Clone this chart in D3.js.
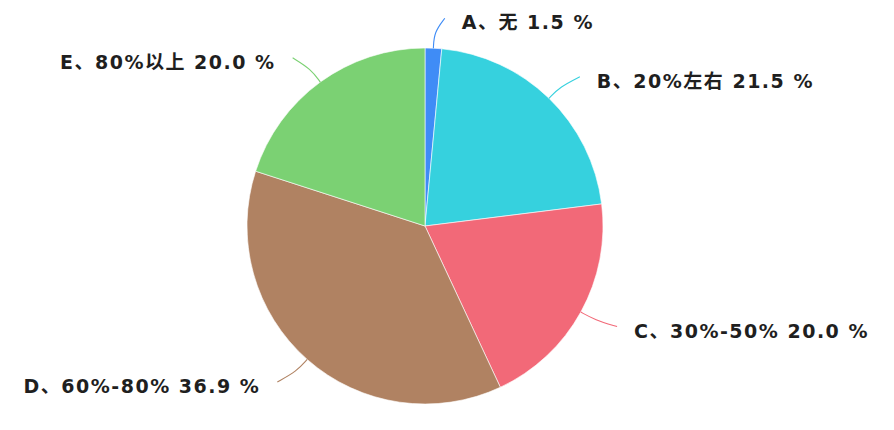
<!DOCTYPE html>
<html>
<head>
<meta charset="utf-8">
<script src="https://cdn.jsdelivr.net/npm/d3@7"></script>
<style>
  body { margin: 0; background: #fff; }
  text { font-family: "DejaVu Sans", "Noto Sans CJK SC", sans-serif; font-weight: bold; fill: #1f1f1f; }
</style>
</head>
<body>
<svg id="chart" width="894" height="430"></svg>
<script>
var categories = ["A、无", "B、20%左右", "C、30%-50%", "D、60%-80%", "E、80%以上"];
var values = [1.5, 21.5, 20.0, 36.9, 20.0];
var colors = ["#3f8cf6", "#36d1de", "#f26978", "#b08262", "#7bd173"];

var width = 894, height = 430;
var cx = 425, cy = 226, radius = 178;

var svg = d3.select("#chart");
var g = svg.append("g").attr("transform", "translate(" + cx + "," + cy + ")");

var data = categories.map(function(c, i) { return { name: c, value: values[i], color: colors[i] }; });

var pie = d3.pie().sort(null).value(function(d) { return d.value; });
var arcs = pie(data);

var arc = d3.arc().innerRadius(0).outerRadius(radius);

g.selectAll("path.slice")
  .data(arcs)
  .enter().append("path")
  .attr("class", "slice")
  .attr("d", arc)
  .attr("fill", function(d) { return d.data.color; })
  .attr("stroke", "#fff")
  .attr("stroke-width", 0.6);

// leader lines: radial out from the edge, then bending sideways
function pt(a, r) { return [Math.sin(a) * r, -Math.cos(a) * r]; }

var line = d3.line().curve(d3.curveBasis);

arcs.forEach(function(d) {
  var mid = (d.startAngle + d.endAngle) / 2;
  var side = Math.sin(mid) >= 0 ? 1 : -1;
  var p0 = pt(mid, radius);
  var p1 = pt(mid, radius + 16);
  var p2 = pt(mid, radius + 30);
  p2[0] += side * 10;

  g.append("path")
    .attr("d", line([p0, p1, p2]))
    .attr("fill", "none")
    .attr("stroke", d.data.color)
    .attr("stroke-width", 1.1);

  g.append("text")
    .attr("x", p2[0] + side * 17)
    .attr("y", p2[1] + 5.5)
    .attr("dominant-baseline", "middle")
    .attr("text-anchor", side > 0 ? "start" : "end")
    .attr("font-size", 19)
    .attr("letter-spacing", 1.5)
    .text(d.data.name + " " + d.data.value.toFixed(1) + " %");
});
</script>
</body>
</html>
